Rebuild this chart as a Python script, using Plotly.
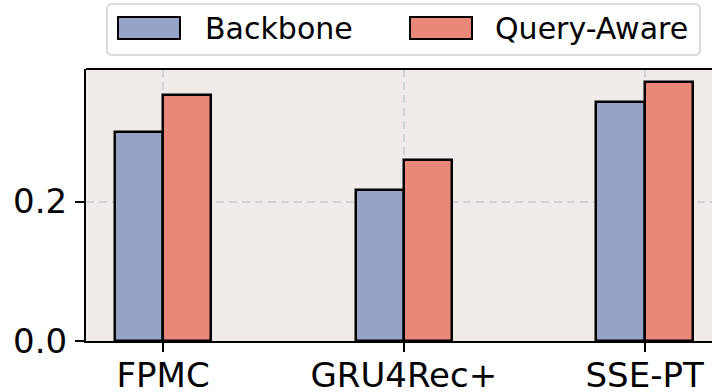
import plotly.graph_objects as go

categories = ["FPMC", "GRU4Rec+", "SSE-PT"]
backbone = [0.300, 0.217, 0.343]
query_aware = [0.353, 0.260, 0.371]
series_names = ["Backbone", "Query-Aware"]
y_ticks = [0.0, 0.2]

C_B = "#95a3c7"
C_Q = "#e98778"
FONT = "DejaVu Sans"

W, H = 712, 392
L, R, T, B = 86, 0, 69, 51
PW, PH = W - L - R, H - T - B

def px(x):
    return (x - L) / PW

def py(y):
    return (H - B - y) / PH

xi = list(range(len(categories)))
fig = go.Figure()
fig.add_trace(go.Bar(x=[i - 0.1 for i in xi], y=backbone, width=0.2, name=series_names[0],
                     marker=dict(color=C_B, line=dict(color="black", width=2.5)), showlegend=False))
fig.add_trace(go.Bar(x=[i + 0.1 for i in xi], y=query_aware, width=0.2, name=series_names[1],
                     marker=dict(color=C_Q, line=dict(color="black", width=2.5)), showlegend=False))

shapes = []
# top spine
shapes.append(dict(type="line", xref="paper", yref="paper", x0=0, x1=1, y0=1, y1=1,
                   line=dict(color="black", width=2)))
# legend box with rounded corners
x0, x1, y0, y1 = 107, 700, 4, 55
r = 5
path = (f"M {px(x0+r)} {py(y0)} L {px(x1-r)} {py(y0)} Q {px(x1)} {py(y0)} {px(x1)} {py(y0+r)} "
        f"L {px(x1)} {py(y1-r)} Q {px(x1)} {py(y1)} {px(x1-r)} {py(y1)} "
        f"L {px(x0+r)} {py(y1)} Q {px(x0)} {py(y1)} {px(x0)} {py(y1-r)} "
        f"L {px(x0)} {py(y0+r)} Q {px(x0)} {py(y0)} {px(x0+r)} {py(y0)} Z")
shapes.append(dict(type="path", xref="paper", yref="paper", path=path,
                   fillcolor="white", line=dict(color="#d0d0d0", width=1.5), layer="above"))
annotations = []
for (bx, tx, col, name) in [(118, 203, C_B, series_names[0]), (410, 493, C_Q, series_names[1])]:
    shapes.append(dict(type="rect", xref="paper", yref="paper",
                       x0=px(bx), x1=px(bx + 62), y0=py(39), y1=py(17),
                       fillcolor=col, line=dict(color="black", width=2), layer="above"))
    annotations.append(dict(xref="paper", yref="paper", x=px(tx), y=py(28), text=name,
                            showarrow=False, xanchor="left", yanchor="middle",
                            font=dict(family=FONT, size=30, color="black")))

fig.update_layout(
    width=W, height=H,
    margin=dict(l=L, r=R, t=T, b=B, autoexpand=False),
    paper_bgcolor="white", plot_bgcolor="#f0ebe8",
    barmode="overlay", bargap=0,
    shapes=shapes, annotations=annotations,
    font=dict(family=FONT, color="black"),
)
fig.update_xaxes(range=[-0.32, 2.28], tickvals=xi, ticktext=categories,
                 showline=True, linecolor="black", linewidth=2,
                 ticks="outside", ticklen=9, tickwidth=2, tickcolor="black",
                 tickfont=dict(size=34, family=FONT), automargin=False,
                 ticklabelstandoff=-6,
                 showgrid=True, gridcolor="#d3d3d3", griddash="8px,5px", gridwidth=1.5,
                 zeroline=False)
fig.update_yaxes(range=[0, 0.39], tickvals=y_ticks, tickformat=".1f",
                 showline=True, linecolor="black", linewidth=2,
                 ticks="outside", ticklen=9, tickwidth=2, tickcolor="black",
                 tickfont=dict(size=34, family=FONT), automargin=False,
                 ticklabelstandoff=1,
                 showgrid=True, gridcolor="#d3d3d3", griddash="8px,5px", gridwidth=1.5,
                 zeroline=False)

fig.write_html("out.html", config={"displayModeBar": False},
               post_script="document.body.style.margin='0';document.body.style.overflow='hidden';")
